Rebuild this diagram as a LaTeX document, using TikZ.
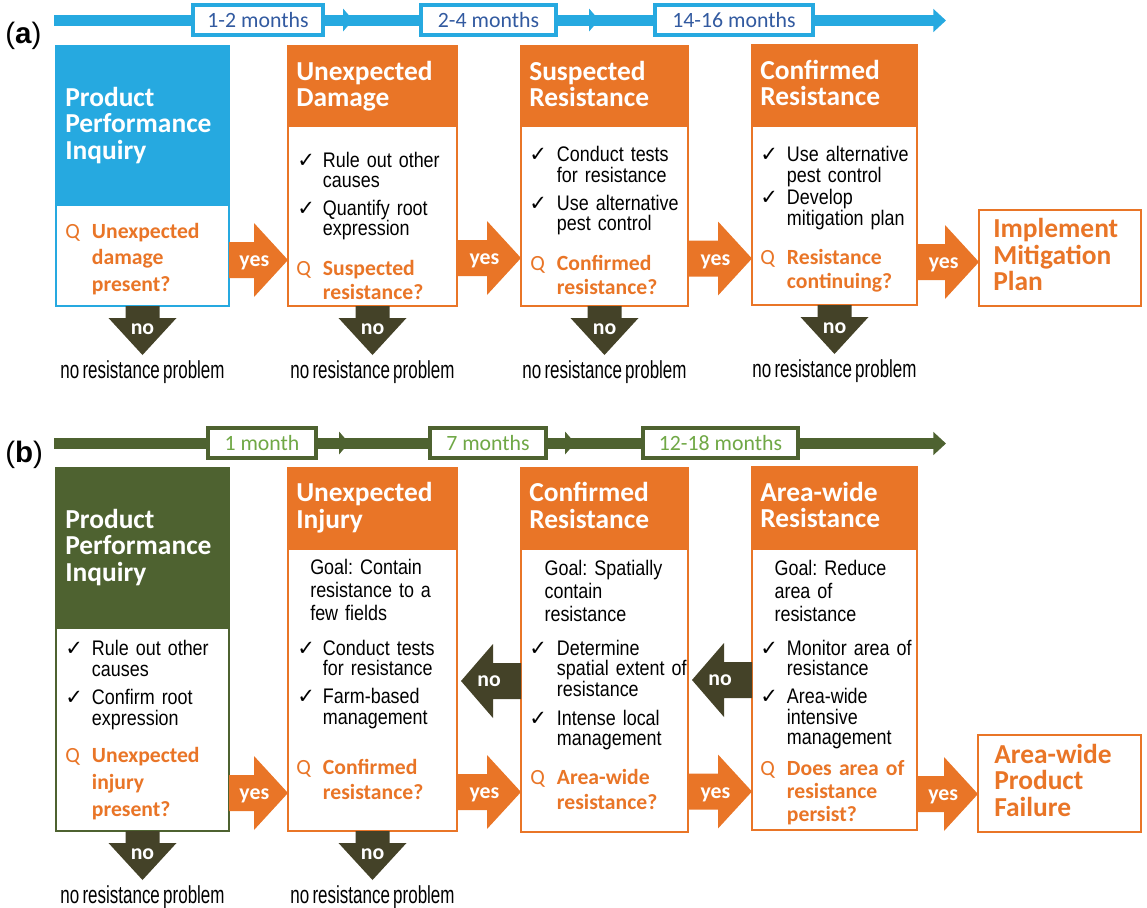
\documentclass[tikz,border=0pt]{standalone}
\usepackage{fontspec}
\setmainfont{Carlito}
\newfontfamily\narrowfont[FakeStretch=0.85,WordSpace=0.5]{Liberation Sans}
\newfontfamily\probfont[FakeStretch=0.69,WordSpace=0.7]{Liberation Sans}
\newfontfamily\tickfont{DejaVu Sans}
\newfontfamily\panelfont{Liberation Sans}
\usetikzlibrary{fit,calc,arrows.meta}
\frenchspacing

\definecolor{skyblue}{RGB}{38,169,224}
\definecolor{rorange}{RGB}{233,117,39}
\definecolor{leafgreen}{RGB}{78,98,48}
\definecolor{noolive}{RGB}{68,66,40}
\definecolor{monthblue}{RGB}{50,90,160}
\definecolor{monthgreen}{RGB}{112,168,70}

% block arrow "yes" from box #1 to box #2 at height #3
\newcommand{\yesarrow}[4]{%
  \fill[rorange] ($(#1.east |- 0,#3)+(0,-18)$) -| ($(#2.west |- 0,#3)+(-34,-37)$)
    -- (#2.west |- 0,#3) -- ($(#2.west |- 0,#3)+(-34,37)$) |- ($(#1.east |- 0,#3)+(0,18)$) -- cycle;
  \node[arrtxt] (#4) at ($(#1.east |- 0,#3)!0.43!(#2.west |- 0,#3)+(0,6.5)$) {yes};
}
% block arrow "no" going down out of box #1
\newcommand{\downno}[2]{%
  \fill[noolive] ($(#1.south)+(-17,0)$) -- ++(0,12) -- ++(-17,0) -- ++(34,37) -- ++(34,-37) -- ++(-17,0) -- ++(0,-12) -- cycle;
  \node[arrtxt] (#2) at ($(#1.south)+(0,28)$) {no};
  \node[probtxt] (#2p) at ($(#1.south)+(0,72)$) {no resistance problem};
}
% block arrow "no" going left from box #1 to box #2
\newcommand{\leftno}[4]{%
  \fill[noolive] ($(#1.west |- 0,#3)+(0,-18)$) -| ($(#2.east |- 0,#3)+(36,-37)$)
    -- ($(#2.east |- 0,#3)+(4,0)$) -- ($(#2.east |- 0,#3)+(36,37)$) |- ($(#1.west |- 0,#3)+(0,18)$) -- cycle;
  \node[arrtxt] (#4) at ($(#2.east |- 0,#3)+(32,5.5)$) {no};
}

\tikzset{
  cbox/.style={draw, line width=1.5pt, fill=white, inner sep=0pt, outer sep=0pt},
  hdrbox/.style={inner sep=0pt, outer sep=0pt},
  ttl/.style={anchor=base west, inner sep=0pt, text width=4cm, align=left, text=white,
    font=\fontsize{19.5}{18.9}\selectfont\bfseries},
  endttl/.style={ttl, text=rorange},
  itm/.style={anchor=base west, inner sep=0pt, text width=4cm, align=left,
    font=\narrowfont\fontsize{15}{14.8}\selectfont},
  goaltxt/.style={itm, font=\narrowfont\fontsize{15}{16.6}\selectfont},
  tickmark/.style={anchor=base west, inner sep=0pt, font=\tickfont\fontsize{15}{15}\selectfont},
  qm/.style={anchor=base west, inner sep=0pt, text=rorange, font=\fontsize{15.4}{15.4}\selectfont},
  qtxt/.style={anchor=base west, inner sep=0pt, text width=4cm, align=left, text=rorange,
    font=\fontsize{15.4}{#1}\selectfont\bfseries},
  qtxt/.default=18.4,
  arrtxt/.style={anchor=base, inner sep=0pt, text=white, font=\fontsize{15.5}{15.5}\selectfont\bfseries},
  probtxt/.style={anchor=base, inner sep=0pt, font=\probfont\fontsize{17.5}{17.5}\selectfont},
  monthbox/.style={draw=#1, fill=white, line width=2.2pt, inner sep=0pt, outer sep=0pt,
    minimum height=0.75cm, font=\fontsize{15.5}{15.5}\selectfont},
  paneltxt/.style={anchor=base west, inner sep=0pt, font=\panelfont\fontsize{21}{21}\selectfont\bfseries},
}

\begin{document}
\begin{tikzpicture}[x=0.025cm, y=-0.025cm]
\useasboundingbox (0,0) rectangle (1147,908);

%%% panel (a)
\node[paneltxt] (pa) at (5,43) {{\mdseries(}a{\mdseries)}};
\coordinate (ta0) at (54,20.5);
\coordinate (ta9) at (946,20.5);
\draw[skyblue, line width=7.8pt, -{Triangle[length=9pt,width=16pt]}] (ta0) -- (ta9);
\node[monthbox=skyblue, text=monthblue, minimum width=3.25cm] (ma1) at (258,20) {1-2 months};
\node[monthbox=skyblue, text=monthblue, minimum width=3.375cm] (ma2) at (488.5,20) {2-4 months};
\node[monthbox=skyblue, text=monthblue, minimum width=3.95cm] (ma3) at (734,20) {14-16 months};
\fill[skyblue] ($(ma1.east)+(20,-11.5)$) -- ++(10,11.5) -- ++(-10,11.5) -- cycle;
\fill[skyblue] ($(ma2.east)+(33,-11.5)$) -- ++(10,11.5) -- ++(-10,11.5) -- cycle;

% box 1
\node[cbox, draw=skyblue, fit={(56,46) (229,306)}] (a1) {};
\node[hdrbox, fill=skyblue, fit={(56,46) (229,206)}] (a1h) {};
\node[ttl] (a1t) at (65,106) {Product\\Performance\\Inquiry};
\node[qm] (a1q) at (65,238.3) {Q};
\node[qtxt=18.8] (a1qt) at (91.7,238.3) {Unexpected\\damage\\present?};

% box 2
\node[cbox, draw=rorange, fit={(288,46) (457,306)}] (a2) {};
\node[hdrbox, fill=rorange, fit={(288,46) (457,127)}] (a2h) {};
\node[ttl] (a2t) at (296,80) {Unexpected\\Damage};
\node[tickmark] (a2k1) at (297,167) {✓};
\node[itm] (a2i1) at (322.7,167) {Rule out other\\causes};
\node[tickmark] (a2k2) at (297,215) {✓};
\node[itm] (a2i2) at (322.7,215) {Quantify root\\expression};
\node[qm] (a2q) at (296,275) {Q};
\node[qtxt=17.7] (a2qt) at (322.7,275) {Suspected\\resistance?};

% box 3
\node[cbox, draw=rorange, fit={(521,46) (688,306)}] (a3) {};
\node[hdrbox, fill=rorange, fit={(521,46) (688,127)}] (a3h) {};
\node[ttl] (a3t) at (529,80) {Suspected\\Resistance};
\node[tickmark] (a3k1) at (529,161.7) {✓};
\node[itm] (a3i1) at (556.7,161.7) {Conduct tests\\for resistance};
\node[tickmark] (a3k2) at (529,210) {✓};
\node[itm] (a3i2) at (556.7,210) {Use alternative\\pest control};
\node[qm] (a3q) at (530,270) {Q};
\node[qtxt=17.7] (a3qt) at (556.7,270) {Confirmed\\resistance?};

% box 4
\node[cbox, draw=rorange, fit={(752,45) (917,305)}] (a4) {};
\node[hdrbox, fill=rorange, fit={(752,45) (917,127)}] (a4h) {};
\node[ttl] (a4t) at (760,79) {Confirmed\\Resistance};
\node[tickmark] (a4k1) at (760,161.7) {✓};
\node[itm] (a4i1) at (786.7,161.7) {Use alternative\\pest control};
\node[tickmark] (a4k2) at (760,204.3) {✓};
\node[itm] (a4i2) at (786.7,204.3) {Develop\\mitigation plan};
\node[qm] (a4q) at (760,264) {Q};
\node[qtxt=17.2] (a4qt) at (786.7,264) {Resistance\\continuing?};

% end box
\node[cbox, draw=rorange, fit={(979,210) (1141,306)}] (a5) {};
\node[endttl] (a5t) at (993,237.5) {Implement\\Mitigation\\Plan};

\yesarrow{a1}{a2}{260}{ya1}
\yesarrow{a2}{a3}{258}{ya2}
\yesarrow{a3}{a4}{258.5}{ya3}
\yesarrow{a4}{a5}{262}{ya4}
\downno{a1}{na1}
\downno{a2}{na2}
\downno{a3}{na3}
\downno{a4}{na4}

%%% panel (b)
\node[paneltxt] (pb) at (5,462.5) {{\mdseries(}b{\mdseries)}};
\coordinate (tb0) at (54,443.5);
\coordinate (tb9) at (946,443.5);
\draw[leafgreen, line width=7.8pt, -{Triangle[length=9pt,width=16pt]}] (tb0) -- (tb9);
\node[monthbox=leafgreen, text=monthgreen, minimum width=2.7cm] (mb1) at (262,443) {1 month};
\node[monthbox=leafgreen, text=monthgreen, minimum width=2.9cm] (mb2) at (488,443) {7 months};
\node[monthbox=leafgreen, text=monthgreen, minimum width=3.875cm] (mb3) at (720.5,443) {12-18 months};
\fill[leafgreen] ($(mb1.east)+(23,-11.5)$) -- ++(10,11.5) -- ++(-10,11.5) -- cycle;
\fill[leafgreen] ($(mb2.east)+(19,-11.5)$) -- ++(10,11.5) -- ++(-10,11.5) -- cycle;

% box 1
\node[cbox, draw=leafgreen, fit={(56,468) (229,831)}] (b1) {};
\node[hdrbox, fill=leafgreen, fit={(56,468) (229,629)}] (b1h) {};
\node[ttl] (b1t) at (65,528.3) {Product\\Performance\\Inquiry};
\node[tickmark] (b1k1) at (65,655.7) {✓};
\node[itm] (b1i1) at (91.7,655.7) {Rule out other\\causes};
\node[tickmark] (b1k2) at (65,704.3) {✓};
\node[itm] (b1i2) at (91.7,704.3) {Confirm root\\expression};
\node[qm] (b1q) at (65,762.7) {Q};
\node[qtxt=19] (b1qt) at (91.7,762.7) {Unexpected\\injury\\present?};

% box 2
\node[cbox, draw=rorange, fit={(288,468) (457,831)}] (b2) {};
\node[hdrbox, fill=rorange, fit={(288,468) (457,550)}] (b2h) {};
\node[ttl] (b2t) at (296,501.7) {Unexpected\\Injury};
\node[goaltxt] (b2g) at (310,574) {Goal: Contain\\resistance to a\\few fields};
\node[tickmark] (b2k1) at (297,655) {✓};
\node[itm] (b2i1) at (322.7,655) {Conduct tests\\for resistance};
\node[tickmark] (b2k2) at (297,703.3) {✓};
\node[itm] (b2i2) at (322.7,703.3) {Farm-based\\management};
\node[qm] (b2q) at (296,774) {Q};
\node[qtxt=18.4] (b2qt) at (322.7,774) {Confirmed\\resistance?};

% box 3
\node[cbox, draw=rorange, fit={(521,468) (688,832)}] (b3) {};
\node[hdrbox, fill=rorange, fit={(521,468) (688,550)}] (b3h) {};
\node[ttl] (b3t) at (529,501.7) {Confirmed\\Resistance};
\node[goaltxt] (b3g) at (544.3,575) {Goal: Spatially\\contain\\resistance};
\node[tickmark] (b3k1) at (529,655) {✓};
\node[itm] (b3i1) at (556.7,655) {Determine\\spatial extent of\\resistance};
\node[tickmark] (b3k2) at (529,725) {✓};
\node[itm] (b3i2) at (556.7,725) {Intense local\\management};
\node[qm] (b3q) at (530,784.3) {Q};
\node[qtxt=18.2] (b3qt) at (556.7,784.3) {Area-wide\\resistance?};

% box 4
\node[cbox, draw=rorange, fit={(752,467) (917,830)}] (b4) {};
\node[hdrbox, fill=rorange, fit={(752,467) (917,550)}] (b4h) {};
\node[ttl] (b4t) at (760,501) {Area-wide\\Resistance};
\node[goaltxt] (b4g) at (774.3,575) {Goal: Reduce\\area of\\resistance};
\node[tickmark] (b4k1) at (760,655) {✓};
\node[itm] (b4i1) at (786.7,655) {Monitor area of\\resistance};
\node[tickmark] (b4k2) at (760,703.3) {✓};
\node[itm] (b4i2) at (786.7,703.3) {Area-wide\\intensive\\management};
\node[qm] (b4q) at (760,775) {Q};
\node[qtxt=16.5] (b4qt) at (786.7,775) {Does area of\\resistance\\persist?};

% end box
\node[cbox, draw=rorange, fit={(978,735) (1141,832)}] (b5) {};
\node[endttl] (b5t) at (994,763.3) {Area-wide\\Product\\Failure};

\yesarrow{b1}{b2}{793}{yb1}
\yesarrow{b2}{b3}{792}{yb2}
\yesarrow{b3}{b4}{791.5}{yb3}
\yesarrow{b4}{b5}{794}{yb4}
\leftno{b3}{b2}{681}{lb1}
\leftno{b4}{b3}{680}{lb2}
\downno{b1}{nb1}
\downno{b2}{nb2}
\end{tikzpicture}
\end{document}
